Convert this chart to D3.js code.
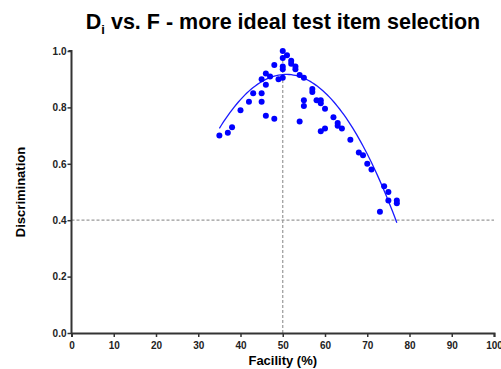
<!DOCTYPE html>
<html>
<head>
<meta charset="utf-8">
<script src="https://cdn.jsdelivr.net/npm/d3@7"></script>
<style>
  body { margin: 0; background: #fff; }
  text { font-family: Arial, "Liberation Sans", sans-serif; }
</style>
</head>
<body>
<svg id="chart" width="501" height="369"></svg>
<script>
// item facility (%) and discrimination index
const facility = [35, 37, 38, 40, 42, 43, 45, 45, 46, 48, 45, 46, 46, 47, 48, 49,
  50, 50, 50, 50, 50, 51, 52, 52, 53, 53, 54, 54, 55, 55, 55, 57, 57, 58, 59, 59,
  59, 60, 60, 62, 63, 63, 64, 66, 68, 69, 70, 71, 74, 75, 75, 77, 77, 73];
const discrimination = [0.70, 0.71, 0.73, 0.79, 0.82, 0.85, 0.85, 0.82, 0.77, 0.76,
  0.90, 0.92, 0.88, 0.91, 0.95, 0.90, 1.00, 0.975, 0.945, 0.935, 0.905, 0.985, 0.965,
  0.955, 0.945, 0.935, 0.915, 0.75, 0.905, 0.825, 0.805, 0.865, 0.855, 0.825, 0.825,
  0.815, 0.715, 0.795, 0.725, 0.765, 0.745, 0.735, 0.725, 0.685, 0.64, 0.63, 0.60,
  0.58, 0.52, 0.50, 0.47, 0.47, 0.46, 0.43];
const xTicks = [0, 10, 20, 30, 40, 50, 60, 70, 80, 90, 100];
const yTicks = [0, 0.2, 0.4, 0.6, 0.8, 1.0];
// fitted parabola D = top + curv * (F - peakF)^2
const fitPeak = [50.8, 0.917];
const fitCurv = -0.000766;
const fitRange = [35, 77];
const refF = 50, refD = 0.4;

const margin = { top: 51, right: 7, bottom: 36, left: 71.5 },
  width = 501 - margin.left - margin.right,
  height = 369 - margin.top - margin.bottom;

const svg = d3.select("#chart");
const g = svg.append("g")
  .attr("transform", "translate(" + margin.left + "," + margin.top + ")");

const x = d3.scaleLinear().domain([0, 100]).range([0, width]);
const y = d3.scaleLinear().domain([0, 1]).range([height, 0]);

// reference lines
g.append("line")
  .attr("x1", x(refF)).attr("x2", x(refF))
  .attr("y1", y(0)).attr("y2", y(1))
  .attr("stroke", "#999").attr("stroke-width", 1.2)
  .attr("stroke-dasharray", "3,2");
g.append("line")
  .attr("x1", x(0)).attr("x2", x(100))
  .attr("y1", y(refD)).attr("y2", y(refD))
  .attr("stroke", "#999").attr("stroke-width", 1.2)
  .attr("stroke-dasharray", "3,2");

// axes
const xAxis = g.append("g")
  .attr("transform", "translate(0," + height + ")")
  .call(d3.axisBottom(x).tickValues(xTicks).tickFormat(d3.format("d")).tickSizeOuter(0).tickSize(4));
const yAxis = g.append("g")
  .call(d3.axisLeft(y).tickValues(yTicks).tickFormat(d3.format(".1f")).tickSizeOuter(0).tickSize(4));

[xAxis, yAxis].forEach(a => {
  a.select(".domain").attr("stroke", "#333").attr("stroke-width", 2);
  a.selectAll(".tick line").attr("stroke", "#333").attr("stroke-width", 1.5);
  a.selectAll(".tick text").attr("fill", "#222")
    .style("font-size", "10px").style("font-weight", "bold");
});
xAxis.selectAll(".tick text").attr("dy", "0.9em");
yAxis.selectAll(".tick text").attr("x", -5);
yAxis.select(".domain").attr("d", "M0," + height + "V" + y(1) + "H-3");

// fitted curve
const fitPts = d3.range(fitRange[0], fitRange[1] + 0.01, 0.5)
  .map(f => [f, fitPeak[1] + fitCurv * (f - fitPeak[0]) * (f - fitPeak[0])]);

g.append("path")
  .datum(fitPts)
  .attr("fill", "none")
  .attr("stroke", "#1a1aff")
  .attr("stroke-width", 1.3)
  .attr("d", d3.line().x(d => x(d[0])).y(d => y(d[1])));

// points
g.selectAll("circle")
  .data(facility.map((f, i) => [f, discrimination[i]]))
  .enter().append("circle")
  .attr("cx", d => x(d[0]))
  .attr("cy", d => y(d[1]))
  .attr("r", 3)
  .attr("fill", "#0000ff");

// labels
svg.append("text")
  .attr("x", 283).attr("y", 29)
  .attr("text-anchor", "middle")
  .style("font-size", "21.5px").style("font-weight", "bold")
  .call(t => {
    t.append("tspan").text("D");
    t.append("tspan").attr("dy", 5).style("font-size", "13px").text("i");
    t.append("tspan").attr("dy", -5).text(" vs. F - more ideal test item selection");
  });

svg.append("text")
  .attr("x", margin.left + x(50)).attr("y", 365)
  .attr("text-anchor", "middle")
  .style("font-size", "13px").style("font-weight", "bold")
  .text("Facility (%)");

svg.append("text")
  .attr("transform", "translate(25," + (margin.top + height / 2) + ") rotate(-90)")
  .attr("text-anchor", "middle")
  .style("font-size", "13px").style("font-weight", "bold")
  .text("Discrimination");
</script>
</body>
</html>
